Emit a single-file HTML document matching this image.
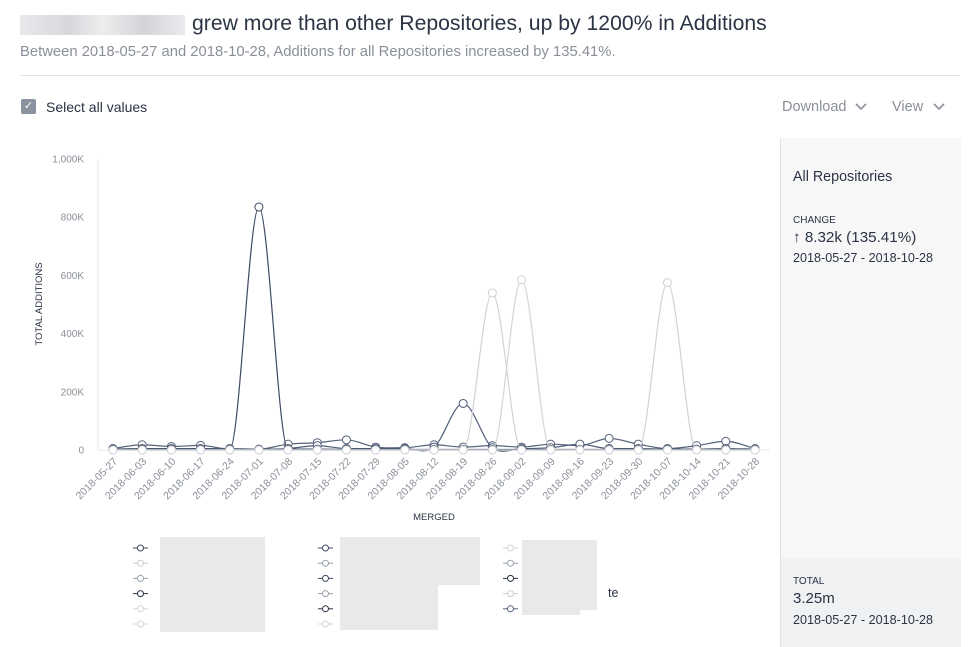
<!DOCTYPE html>
<html><head><meta charset="utf-8">
<style>
body{margin:0;width:973px;height:647px;background:#fff;font-family:"Liberation Sans",sans-serif;position:relative;overflow:hidden;color:#2b3444}
.abs{position:absolute}
</style></head><body>
<div class="abs" style="left:20px;top:15px;width:165px;height:20px;background:linear-gradient(90deg,#e8e9eb,#d6d8dc 30%,#eceded 50%,#d2d4d8 75%,#eaebed)"></div>
<div class="abs" style="left:192px;top:12px;font-size:21.2px;color:#2b3444">grew more than other Repositories, up by 1200% in Additions</div>
<div class="abs" style="left:20px;top:44px;font-size:14.8px;color:#8a8f99">Between 2018-05-27 and 2018-10-28, Additions for all Repositories increased by 135.41%.</div>
<div class="abs" style="left:20px;top:75px;width:940px;height:1px;background:#e1e3e6"></div>
<div class="abs" style="left:21px;top:99px;width:15px;height:15px;background:#8c93a0;border-radius:2px;color:#fff;font-size:11px;text-align:center;line-height:15px">✓</div>
<div class="abs" style="left:46px;top:99px;font-size:14px">Select all values</div>
<div class="abs" style="left:782px;top:99px;font-size:14.5px;color:#8a8f99">Download <svg width="12" height="8" style="margin-left:4px"><path d="M1 1 L6 6 L11 1" fill="none" stroke="#8a8f99" stroke-width="1.6"/></svg></div>
<div class="abs" style="left:892px;top:99px;font-size:14.5px;color:#8a8f99">View <svg width="12" height="8" style="margin-left:6px"><path d="M1 1 L6 6 L11 1" fill="none" stroke="#8a8f99" stroke-width="1.6"/></svg></div>

<div class="abs" style="left:780px;top:138px;width:180px;height:509px;background:#f7f7f8;border-left:1px solid #e1e3e6">
  <div class="abs" style="left:12px;top:31px;font-size:14.3px">All Repositories</div>
  <div class="abs" style="left:12px;top:77px;font-size:10px">CHANGE</div>
  <div class="abs" style="left:12px;top:91px;font-size:15.2px">↑ 8.32k (135.41%)</div>
  <div class="abs" style="left:12px;top:113px;font-size:12.6px">2018-05-27 - 2018-10-28</div>
  <div class="abs" style="left:0;top:420px;width:180px;height:89px;background:#f0f1f3">
    <div class="abs" style="left:12px;top:18px;font-size:10px">TOTAL</div>
    <div class="abs" style="left:12px;top:32px;font-size:15px">3.25m</div>
    <div class="abs" style="left:12px;top:55px;font-size:12.6px">2018-05-27 - 2018-10-28</div>
  </div>
</div>

<svg id="chart" class="abs" style="left:0;top:0" width="780" height="647"></svg>
<script>
const categories=["2018-05-27","2018-06-03","2018-06-10","2018-06-17","2018-06-24","2018-07-01","2018-07-08","2018-07-15","2018-07-22","2018-07-29","2018-08-05","2018-08-12","2018-08-19","2018-08-26","2018-09-02","2018-09-09","2018-09-16","2018-09-23","2018-09-30","2018-10-07","2018-10-14","2018-10-21","2018-10-28"];
const yTicks=[0,200,400,600,800,1000];
const yTickLabels=["0","200K","400K","600K","800K","1,000K"];
const seriesA=[2,3,2,3,2,835,3,3,2,2,2,2,2,2,2,2,2,2,2,2,2,2,2];
const seriesB=[3,5,5,5,5,3,5,15,5,5,5,10,160,8,5,8,20,5,5,3,3,5,3];
const seriesC=[5,18,12,16,3,3,20,25,35,10,8,18,10,15,10,20,15,40,20,5,15,30,5];
const seriesD=[0,0,0,0,0,0,0,0,0,0,0,0,0,540,0,0,0,0,0,0,0,0,0];
const seriesE=[0,0,0,0,0,0,0,0,0,0,0,0,0,0,585,0,0,0,0,0,0,0,0];
const seriesF=[0,0,0,0,0,0,0,0,0,0,0,0,0,0,0,0,0,0,0,575,0,0,0];
const seriesColors=["#3d4a63","#4f5c78","#56627c","#cfd1d5","#d3d5d9","#cfd1d5"];
const allSeries=[seriesC,seriesB,seriesA,seriesD,seriesE,seriesF];
const allColors=[seriesColors[2],seriesColors[1],seriesColors[0],seriesColors[3],seriesColors[4],seriesColors[5]];
const svg=document.getElementById('chart');
const NS='http://www.w3.org/2000/svg';
const x=i=>113+i*(642/22);
const y=v=>450-v/1000*291;
function mk(t,a){const e=document.createElementNS(NS,t);for(const k in a)e.setAttribute(k,a[k]);svg.appendChild(e);return e;}
let ax=mk('line',{x1:98,y1:159,x2:98,y2:450,stroke:'#e1e3e6'});


let bx=mk('line',{x1:98,y1:450,x2:770,y2:450,stroke:'#e6e7ea'});


yTicks.forEach((v,i)=>{const t=mk('text',{x:84,y:y(v)+3.5,'text-anchor':'end','font-size':'10','fill':'#8a8f99'});t.textContent=yTickLabels[i];

});
categories.forEach((c,i)=>{const t=mk('text',{x:0,y:0,'text-anchor':'end','font-size':'10.5',fill:'#8a8f99',transform:`translate(${x(i)+5},${462}) rotate(-45)`});t.textContent=c;

});
let yt=mk('text',{x:0,y:0,'text-anchor':'middle','font-size':'9.5',fill:'#2b3444',transform:'translate(42,304) rotate(-90)'});yt.textContent='TOTAL ADDITIONS';


let xt=mk('text',{x:434,y:520,'text-anchor':'middle','font-size':'9.5',fill:'#2b3444'});xt.textContent='MERGED';


function monotone(pts){const n=pts.length,d=[],m=[];for(let i=0;i<n-1;i++)d.push((pts[i+1][1]-pts[i][1])/(pts[i+1][0]-pts[i][0]));
m[0]=d[0];m[n-1]=d[n-2];for(let i=1;i<n-1;i++){m[i]=(d[i-1]*d[i]<=0)?0:(d[i-1]+d[i])/2;}
let s=`M${pts[0][0]},${pts[0][1]}`;for(let i=0;i<n-1;i++){const h=pts[i+1][0]-pts[i][0];s+=` C${pts[i][0]+h/3},${pts[i][1]+m[i]*h/3} ${pts[i+1][0]-h/3},${pts[i+1][1]-m[i+1]*h/3} ${pts[i+1][0]},${pts[i+1][1]}`;}return s;}
allSeries.forEach((s,k)=>{const pts=s.map((v,i)=>[x(i),y(v)]);
const p=mk('path',{d:monotone(pts),fill:'none',stroke:allColors[k],'stroke-width':1.2});


pts.forEach(q=>{const c=mk('circle',{cx:q[0],cy:q[1],r:4,fill:'#fff',stroke:allColors[k],'stroke-width':1});

});});
const legendColors=[["#3d4a63","#c9ccd2","#9aa1ae","#2b3444","#d3d5d9","#d3d5d9"],["#3d4a63","#9aa1ae","#3d4a63","#9aa1ae","#2b3444","#d3d5d9"],["#d3d5d9","#9aa1ae","#2b3444","#c9ccd2","#56627c"]];
const legendX=[133,318,503];
legendColors.forEach((col,ci)=>{col.forEach((c,ri)=>{const yy=548+ri*15.2;
const l=mk('line',{x1:legendX[ci],y1:yy,x2:legendX[ci]+15,y2:yy,stroke:c});


mk('circle',{cx:legendX[ci]+7.5,cy:yy,r:3,fill:'#fff',stroke:c});});});
[[160,537,105,95],[340,537,140,48],[340,585,98,45],[522,540,75,70],[522,595,58,20]].forEach(r=>{const b=mk('rect',{x:r[0],y:r[1],width:r[2],height:r[3],fill:'#e9e9eb'});

});
let te=mk('text',{x:608,y:597,'font-size':'12.5',fill:'#2b3444'});te.textContent='te';


</script>
</body></html>
